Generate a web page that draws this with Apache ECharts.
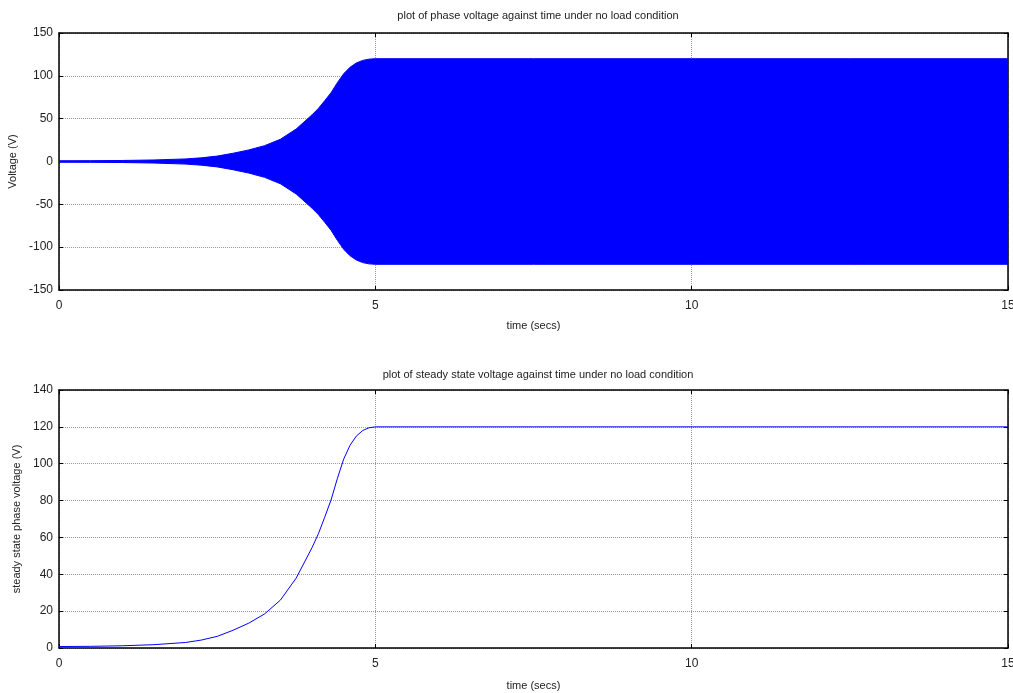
<!DOCTYPE html>
<html>
<head>
<meta charset="utf-8">
<script src="https://cdn.jsdelivr.net/npm/echarts@6/dist/echarts.min.js"></script>
<style>
html,body{margin:0;padding:0;background:#fff}
#chart{width:1013px;height:693px}
</style>
</head>
<body>
<div id="chart"></div>
<script>
// time (secs) and steady state (envelope) voltage
var timeSecs = [0, 0.5, 1, 1.5, 2, 2.25, 2.5, 2.75, 3, 3.25, 3.5, 3.75, 4, 4.1, 4.2, 4.3, 4.4, 4.5, 4.6, 4.7, 4.8, 4.9, 5, 7.5, 10, 12.5, 15];
var steadyVoltage = [0.8, 0.9, 1.2, 1.8, 3.0, 4.3, 6.3, 9.6, 13.5, 18.5, 26, 38, 54.5, 62, 71, 80.3, 92, 102.5, 110, 115, 118, 119.5, 120, 120, 120, 120, 120];

// axis ticks
var timeTicks = [0, 5, 10, 15];
var phaseTicks = [-150, -100, -50, 0, 50, 100, 150];
var steadyTicks = [0, 20, 40, 60, 80, 100, 120, 140];

var titleTop = 'plot of phase voltage against time under no load condition';
var titleBottom = 'plot of steady state voltage against time under no load condition';

// phase voltage is drawn as the filled band between -envelope and +envelope
var upperEnv = [], lowerEnv = [], steadyLine = [];
for (var i = 0; i < timeSecs.length; i++) {
	upperEnv.push([timeSecs[i], steadyVoltage[i]]);
	lowerEnv.push([timeSecs[i], -steadyVoltage[i]]);
	steadyLine.push([timeSecs[i], steadyVoltage[i]]);
}

var BLUE = '#0000ff';
var FONT = 'Liberation Sans, Arial';

function xAxes(gi, gap) {
	var base = {
		type: 'value', gridIndex: gi,
		min: timeTicks[0], max: timeTicks[timeTicks.length - 1], interval: timeTicks[1] - timeTicks[0],
		axisLine: {onZero: false, lineStyle: {color: '#000', width: 1.5}},
		axisTick: {inside: true, length: 4, lineStyle: {color: '#000'}}
	};
	return [
		echarts.util.merge({
			position: 'bottom',
			name: 'time (secs)', nameLocation: 'middle', nameGap: gap,
			nameTextStyle: {color: '#222', fontSize: 11, fontFamily: FONT},
			axisLabel: {color: '#222', fontSize: 12, margin: 10, fontFamily: FONT},
			splitLine: {show: true, lineStyle: {color: '#999', type: [1, 1]}}
		}, base, true),
		echarts.util.merge({
			position: 'top',
			axisLabel: {show: false},
			splitLine: {show: false}
		}, base, true)
	];
}

function yAxes(gi, ticks, name, gap) {
	var base = {
		type: 'value', gridIndex: gi,
		min: ticks[0], max: ticks[ticks.length - 1], interval: ticks[1] - ticks[0],
		axisLine: {show: true, onZero: false, lineStyle: {color: '#000', width: 1.5}},
		axisTick: {show: true, inside: true, length: 4, lineStyle: {color: '#000'}}
	};
	return [
		echarts.util.merge({
			position: 'left',
			name: name, nameLocation: 'middle', nameGap: gap,
			nameTextStyle: {color: '#222', fontSize: 11, fontFamily: FONT},
			axisLabel: {color: '#222', fontSize: 12, margin: 6, fontFamily: FONT},
			splitLine: {show: true, lineStyle: {color: '#999', type: [1, 1]}}
		}, base, true),
		echarts.util.merge({
			position: 'right',
			axisLabel: {show: false},
			splitLine: {show: false}
		}, base, true)
	];
}

var chart = echarts.init(document.getElementById('chart'), null, {renderer: 'canvas'});

var option = {
	animation: false,
	backgroundColor: '#fff',
	title: [
		{text: titleTop, left: 533, top: 5, textAlign: 'center',
			textStyle: {fontSize: 11, fontWeight: 'normal', color: '#222', fontFamily: FONT}},
		{text: titleBottom, left: 533, top: 364, textAlign: 'center',
			textStyle: {fontSize: 11, fontWeight: 'normal', color: '#222', fontFamily: FONT}}
	],
	grid: [
		{left: 59, right: 5, top: 33, height: 257, outerBoundsMode: 'none', containLabel: false},
		{left: 59, right: 5, top: 390, height: 258, outerBoundsMode: 'none', containLabel: false}
	],
	xAxis: xAxes(0, 30).concat(xAxes(1, 32)),
	yAxis: yAxes(0, phaseTicks, 'Voltage (V)', 35).concat(yAxes(1, steadyTicks, 'steady state phase voltage (V)', 31)),
	series: [
		// the two halves overlap slightly around zero so no seam shows
		{type: 'line', xAxisIndex: 0, yAxisIndex: 0, data: upperEnv, symbol: 'none',
			lineStyle: {color: BLUE, width: 1}, areaStyle: {color: BLUE, opacity: 1, origin: -1}},
		{type: 'line', xAxisIndex: 0, yAxisIndex: 0, data: lowerEnv, symbol: 'none',
			lineStyle: {color: BLUE, width: 1}, areaStyle: {color: BLUE, opacity: 1, origin: 1}},
		{type: 'line', xAxisIndex: 2, yAxisIndex: 2, data: steadyLine, symbol: 'none',
			lineStyle: {color: BLUE, width: 1}}
	]
};

chart.setOption(option);
</script>
</body>
</html>
